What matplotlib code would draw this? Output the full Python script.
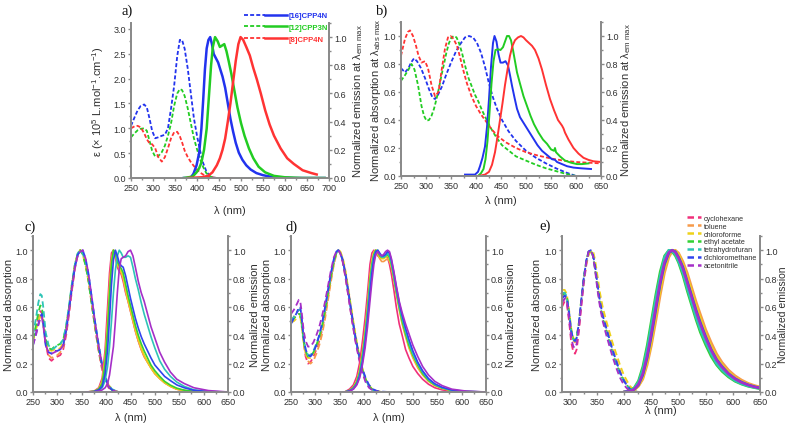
import matplotlib
matplotlib.use("Agg")
import matplotlib.pyplot as plt
from matplotlib.lines import Line2D
from matplotlib.legend_handler import HandlerTuple
from matplotlib.ticker import MultipleLocator, AutoMinorLocator, FormatStrFormatter

plt.rcParams['font.family'] = ['Liberation Sans', 'DejaVu Sans']
plt.rcParams['mathtext.fontset'] = 'custom'
plt.rcParams['mathtext.rm'] = 'Liberation Sans'
plt.rcParams['mathtext.it'] = 'Liberation Sans'

# ---------------- panel a ----------------
a_names = ['[16]CPP4N', '[12]CPP3N', '[8]CPP4N']
a_colors = ['#2233ee', '#22cc22', '#ff3333']
a_abs_wl = [250, 258, 265, 272, 280, 286, 292, 298, 305, 312, 320, 327, 334, 341, 348, 355,
            361, 366, 372, 379, 386, 393, 400, 407, 414, 421, 428, 436, 445, 480]
a_abs_16 = [1.05, 1.22, 1.36, 1.45, 1.48, 1.42, 1.2, 0.95, 0.8, 0.82, 0.85, 0.87, 1.0, 1.4, 1.85, 2.45,
            2.78, 2.78, 2.6, 2.2, 1.7, 1.2, 0.85, 0.55, 0.3, 0.14, 0.05, 0.01, 0.0, 0.0]
a_abs_12 = [0.82, 0.9, 0.96, 0.99, 1.0, 0.95, 0.75, 0.55, 0.43, 0.44, 0.52, 0.65, 0.85, 1.1, 1.45, 1.7,
            1.79, 1.77, 1.65, 1.4, 1.1, 0.8, 0.58, 0.38, 0.22, 0.1, 0.04, 0.01, 0.0, 0.0]
a_abs_8 = [1.0, 1.04, 1.05, 1.02, 0.9, 0.78, 0.7, 0.68, 0.6, 0.42, 0.33, 0.42, 0.6, 0.8, 0.92, 0.93,
           0.84, 0.72, 0.55, 0.42, 0.32, 0.24, 0.17, 0.11, 0.07, 0.04, 0.02, 0.01, 0.0, 0.0]

a_em16_wl = [370, 385, 392, 399, 405, 410, 414, 418, 422, 426, 430, 434, 438, 443, 448, 453, 458,
             464, 470, 476, 482, 488, 495, 503, 512, 522, 535, 550, 566, 585, 620, 690]
a_em16 = [0, 0, 0.03, 0.09, 0.18, 0.35, 0.55, 0.77, 0.92, 0.98, 1.0, 0.95, 0.88, 0.85, 0.82, 0.77, 0.72,
          0.64, 0.53, 0.42, 0.33, 0.25, 0.18, 0.13, 0.09, 0.06, 0.035, 0.02, 0.01, 0.005, 0, 0]
a_em12_wl = [370, 390, 399, 405, 410, 416, 422, 428, 432, 436, 441, 447, 452, 457, 462, 467, 472, 478,
             485, 492, 500, 508, 518, 528, 540, 555, 575, 600, 640, 690]
a_em12 = [0, 0.01, 0.04, 0.07, 0.11, 0.2, 0.35, 0.62, 0.8, 0.93, 1.0, 0.97, 0.93, 0.94, 0.95, 0.9, 0.83,
          0.74, 0.62, 0.5, 0.39, 0.3, 0.21, 0.14, 0.08, 0.04, 0.015, 0.005, 0, 0]
a_em8_wl = [380, 410, 425, 435, 445, 452, 458, 464, 470, 476, 482, 488, 494, 499, 505, 512, 520, 528,
            536, 545, 555, 565, 575, 590, 605, 620, 640, 660, 672]
a_em8 = [0, 0.005, 0.015, 0.04, 0.09, 0.14, 0.2, 0.28, 0.4, 0.53, 0.68, 0.83, 0.95, 1.0, 0.98, 0.93,
         0.87, 0.78, 0.7, 0.6, 0.48, 0.38, 0.3, 0.21, 0.14, 0.1, 0.055, 0.035, 0.025]

# ---------------- panel b ----------------
b_abs16_wl = [250, 258, 265, 270, 276, 282, 290, 298, 306, 313, 318, 324, 332, 340, 350, 360, 370, 378,
              386, 394, 402, 410, 418, 426, 434, 442, 452, 465, 480, 500, 520, 540, 560, 580, 600]
b_abs16 = [0.77, 0.74, 0.77, 0.81, 0.84, 0.82, 0.77, 0.7, 0.62, 0.56, 0.55, 0.58, 0.64, 0.72, 0.81, 0.89,
           0.95, 0.99, 1.0, 0.99, 0.95, 0.88, 0.78, 0.66, 0.56, 0.48, 0.4, 0.32, 0.25, 0.18, 0.13, 0.09,
           0.055, 0.025, 0.0]
b_abs12_wl = [250, 258, 265, 271, 277, 284, 291, 296, 301, 306, 311, 316, 321, 326, 331, 336, 341, 346,
              351, 356, 361, 366, 372, 378, 385, 391, 398, 405, 412, 420, 430, 440, 452, 466, 480, 500,
              520, 540, 560, 580, 600]
b_abs12 = [0.68, 0.72, 0.76, 0.8, 0.76, 0.65, 0.5, 0.43, 0.395, 0.4, 0.43, 0.48, 0.55, 0.63, 0.72, 0.8,
           0.885, 0.95, 0.99, 1.0, 0.99, 0.95, 0.88, 0.79, 0.7, 0.645, 0.58, 0.53, 0.47, 0.41, 0.34, 0.28,
           0.22, 0.18, 0.14, 0.11, 0.08, 0.055, 0.035, 0.015, 0.0]
b_abs8_wl = [250, 258, 264, 268, 274, 280, 285, 291, 298, 304, 311, 318, 325, 331, 338, 344, 349, 355,
             362, 368, 375, 382, 391, 400, 410, 420, 432, 445, 460, 480, 500, 525, 550, 575, 600, 625, 650]
b_abs8 = [0.86, 0.98, 1.03, 1.04, 1.0, 0.93, 0.86, 0.81, 0.82, 0.77, 0.65, 0.57, 0.6, 0.75, 0.91, 0.99,
          1.0, 0.98, 0.93, 0.85, 0.75, 0.66, 0.57, 0.5, 0.44, 0.39, 0.33, 0.28, 0.24, 0.2, 0.17, 0.145,
          0.125, 0.11, 0.1, 0.095, 0.09]

b_em16_wl = [378, 398, 404, 408, 413, 418, 422, 426, 430, 434, 437, 441, 445, 449, 454, 459, 464, 468,
             472, 477, 482, 488, 495, 502, 509, 516, 523, 532, 542, 552, 558, 562, 572, 582, 595, 610, 630]
b_em16 = [0.01, 0.01, 0.03, 0.07, 0.13, 0.21, 0.35, 0.55, 0.78, 0.95, 1.0, 0.96, 0.87, 0.81, 0.81, 0.82,
          0.79, 0.72, 0.645, 0.56, 0.48, 0.42, 0.38, 0.34, 0.3, 0.26, 0.22, 0.18, 0.15, 0.12, 0.115, 0.1,
          0.085, 0.07, 0.06, 0.055, 0.05]
b_em12_wl = [404, 410, 415, 419, 423, 427, 431, 435, 439, 444, 449, 454, 458, 462, 466, 470, 474, 478,
             482, 488, 495, 502, 509, 516, 525, 534, 542, 550, 556, 558, 560, 568, 578, 590, 602, 612, 625]
b_em12 = [0.0, 0.02, 0.05, 0.12, 0.25, 0.45, 0.66, 0.82, 0.9, 0.905, 0.9, 0.92, 0.96, 1.0, 1.0, 0.97,
          0.9, 0.82, 0.74, 0.66, 0.57, 0.5, 0.43, 0.37, 0.31, 0.26, 0.23, 0.19, 0.18, 0.2, 0.17, 0.14,
          0.11, 0.095, 0.085, 0.085, 0.09]
b_em8_wl = [405, 418, 426, 432, 438, 443, 448, 453, 458, 463, 468, 473, 478, 484, 490, 495, 500, 506,
            512, 518, 525, 532, 540, 548, 556, 564, 572, 575, 578, 585, 595, 605, 615, 625, 635, 650]
b_em8 = [0, 0.01, 0.03, 0.08, 0.17, 0.28, 0.4, 0.52, 0.65, 0.76, 0.86, 0.93, 0.97, 0.99, 1.0, 0.99, 0.97,
         0.95, 0.93, 0.9, 0.84, 0.76, 0.65, 0.55, 0.47, 0.4, 0.36, 0.34, 0.31, 0.26, 0.2, 0.16, 0.13,
         0.115, 0.105, 0.1]

# ---------------- solvents (c, d, e) ----------------
solvents = ['cyclohexane', 'toluene', 'chloroforme', 'ethyl acetate', 'tetrahydrofuran',
            'dichloromethane', 'acetonitrile']
solv_colors = ['#f0307a', '#f79a4a', '#eed21a', '#33d133', '#2ec4b6', '#3044ee', '#a52fc8']

c_abs_wl = [250, 256, 261, 265, 268, 271, 276, 282, 288, 294, 300, 306, 312, 318, 324, 330, 336, 342,
            347, 352, 358, 364, 370, 377, 384, 391, 398, 405, 412, 419, 425]
c_abs = [
    [.36, .45, .53, .57, .56, .50, .34, .24, .22, .24, .25, .26, .3, .4, .55, .72, .87, .97, 1.0, .98, .9, .78, .63, .46, .3, .17, .08, .03, .01, 0, 0],
    [.37, .45, .52, .55, .55, .49, .34, .26, .24, .25, .26, .28, .32, .42, .57, .73, .88, .97, 1.0, .98, .9, .79, .64, .47, .31, .18, .09, .04, .015, .005, 0],
    [.37, .44, .5, .53, .53, .48, .36, .3, .29, .3, .3, .31, .35, .45, .6, .76, .9, .98, 1.0, .97, .89, .78, .64, .48, .33, .2, .1, .05, .02, .005, 0],
    [.37, .47, .56, .61, .6, .52, .37, .31, .3, .32, .33, .34, .37, .46, .6, .76, .9, .98, 1.0, .97, .89, .78, .63, .47, .32, .19, .1, .04, .015, .005, 0],
    [.4, .52, .63, .69, .68, .6, .42, .33, .3, .31, .33, .34, .37, .47, .61, .77, .9, .98, 1.0, .98, .92, .81, .67, .5, .35, .21, .11, .05, .02, .01, 0],
    [.33, .41, .48, .53, .55, .48, .33, .28, .27, .29, .29, .3, .33, .43, .58, .74, .88, .97, .99, 1.0, .94, .83, .68, .5, .34, .2, .1, .04, .015, .005, 0],
    [.33, .4, .47, .52, .53, .47, .33, .28, .27, .28, .29, .3, .33, .43, .58, .74, .88, .97, .99, 1.0, .94, .83, .68, .5, .34, .2, .1, .04, .015, .005, 0],
]
c_em_wl = [360, 375, 385, 392, 398, 403, 407, 411, 415, 419, 423, 427, 431, 435, 440, 445, 450, 455, 460,
           466, 472, 478, 485, 492, 500, 510, 520, 532, 545, 560, 580, 610, 650]
c_em = [
    [0, .005, .03, .1, .3, .6, .84, .98, 1.0, .95, .88, .85, .83, .78, .7, .64, .57, .5, .43, .36, .3, .25, .21, .17, .13, .095, .065, .04, .02, .01, .003, 0, 0],
    [0, .005, .025, .08, .25, .5, .76, .94, 1.0, .97, .9, .86, .84, .8, .71, .64, .57, .5, .43, .36, .3, .25, .21, .17, .13, .095, .065, .04, .02, .01, .003, 0, 0],
    [0, .004, .02, .07, .22, .46, .72, .92, 1.0, .98, .91, .87, .85, .81, .73, .65, .58, .51, .44, .37, .31, .26, .21, .17, .13, .095, .065, .04, .02, .01, .003, 0, 0],
    [0, .004, .02, .06, .2, .43, .68, .9, 1.0, .98, .92, .89, .87, .84, .76, .68, .61, .54, .47, .4, .34, .29, .24, .19, .15, .11, .075, .048, .027, .013, .004, 0, 0],
    [0, .002, .01, .03, .08, .18, .32, .5, .7, .86, .96, 1.0, .98, .95, .95, .96, .95, .88, .8, .72, .63, .55, .47, .39, .31, .22, .16, .11, .07, .04, .015, .003, 0],
    [0, .003, .015, .04, .13, .3, .52, .76, .93, 1.0, .96, .91, .89, .88, .82, .74, .66, .59, .52, .45, .39, .34, .29, .24, .19, .15, .11, .08, .05, .03, .012, .003, 0],
    [0, .002, .006, .015, .03, .06, .12, .22, .32, .5, .7, .87, .94, .95, .96, .99, 1.0, .96, .88, .78, .7, .64, .55, .46, .38, .28, .21, .14, .09, .06, .03, .01, 0],
]

d_abs_wl = [250, 256, 262, 266, 269, 272, 276, 280, 285, 290, 296, 302, 308, 314, 320, 326, 332, 338,
            343, 347, 351, 356, 362, 368, 375, 382, 389, 396, 403, 410, 418, 426, 435, 450]
d_abs = [
    [.5, .53, .56, .58, .58, .5, .35, .25, .2, .21, .25, .3, .36, .44, .55, .67, .8, .91, .98, 1.0, .98, .92, .8, .67, .51, .37, .25, .15, .08, .04, .015, .005, 0, 0],
    [.5, .52, .54, .55, .55, .48, .35, .27, .22, .2, .22, .27, .33, .41, .52, .65, .78, .9, .97, 1.0, .99, .94, .84, .71, .55, .4, .27, .17, .09, .045, .015, .005, 0, 0],
    [.49, .5, .52, .53, .53, .46, .34, .27, .24, .24, .27, .32, .38, .46, .57, .69, .81, .92, .98, 1.0, .99, .95, .85, .72, .56, .41, .28, .17, .09, .045, .015, .005, 0, 0],
    [.5, .52, .54, .55, .55, .48, .36, .29, .25, .25, .28, .33, .39, .47, .58, .7, .82, .92, .98, 1.0, .98, .93, .82, .69, .53, .38, .26, .16, .09, .04, .015, .005, 0, 0],
    [.5, .53, .56, .58, .58, .5, .37, .3, .26, .26, .29, .34, .4, .48, .59, .71, .83, .93, .98, 1.0, .98, .93, .82, .69, .53, .38, .26, .16, .09, .04, .015, .005, 0, 0],
    [.48, .52, .56, .6, .6, .52, .38, .3, .26, .25, .28, .33, .4, .49, .6, .72, .84, .94, .99, 1.0, .98, .93, .83, .7, .54, .39, .27, .17, .1, .05, .02, .008, .003, 0],
    [.55, .58, .62, .65, .64, .56, .43, .36, .32, .32, .35, .4, .46, .54, .64, .75, .86, .95, .99, 1.0, .98, .92, .81, .67, .51, .36, .24, .14, .07, .03, .01, .003, 0, 0],
]
d_em_wl = [360, 370, 378, 385, 391, 397, 402, 407, 412, 416, 420, 424, 428, 432, 436, 440, 444, 448, 452,
           456, 461, 466, 472, 478, 485, 492, 500, 510, 520, 532, 545, 560, 580, 610, 650]
d_em = [
    [0, .02, .05, .11, .21, .37, .52, .7, .9, .98, 1.0, .98, .96, .95, .95, .95, .96, .95, .9, .83, .72, .6, .48, .4, .3, .24, .18, .13, .09, .055, .03, .015, .005, 0, 0],
    [0, .01, .035, .08, .16, .3, .44, .62, .82, .93, .99, 1.0, .97, .94, .92, .92, .93, .94, .92, .88, .79, .69, .58, .48, .39, .31, .24, .17, .12, .075, .045, .025, .01, .002, 0],
    [0, .01, .03, .075, .15, .28, .42, .6, .8, .92, .98, 1.0, .98, .95, .94, .94, .95, .96, .94, .89, .8, .7, .59, .49, .4, .32, .25, .18, .125, .078, .047, .026, .01, .002, 0],
    [0, .01, .03, .07, .14, .27, .4, .58, .78, .9, .97, 1.0, .99, .96, .95, .95, .96, .97, .95, .9, .81, .71, .6, .5, .41, .33, .26, .19, .13, .082, .05, .028, .011, .003, 0],
    [0, .008, .025, .06, .13, .25, .38, .55, .75, .88, .96, .99, 1.0, .97, .95, .95, .96, .98, .96, .91, .82, .72, .61, .52, .43, .35, .27, .2, .14, .088, .054, .03, .012, .003, 0],
    [0, .007, .022, .055, .115, .22, .35, .51, .7, .84, .94, .99, 1.0, .98, .96, .96, .97, .99, .98, .93, .84, .74, .63, .54, .45, .37, .29, .21, .15, .095, .058, .033, .014, .004, 0],
    [0, .005, .02, .05, .1, .2, .31, .46, .64, .78, .9, .97, .99, .97, .96, .97, .99, 1.0, .99, .94, .85, .75, .64, .56, .48, .41, .33, .25, .18, .12, .075, .045, .02, .006, 0],
]

e_abs_wl = [285, 290, 294, 298, 302, 306, 309, 312, 316, 320, 325, 330, 334, 338, 342, 346, 350, 355,
            360, 366, 372, 378, 385, 392, 399, 406, 412, 418, 425]
e_abs = [
    [.6, .64, .62, .5, .35, .28, .27, .3, .42, .58, .76, .9, .97, 1.0, .97, .88, .76, .63, .53, .45, .37, .29, .21, .14, .08, .04, .015, .005, 0],
    [.67, .68, .66, .55, .42, .36, .35, .37, .47, .62, .79, .92, .98, 1.0, .97, .89, .78, .66, .56, .47, .39, .31, .23, .15, .09, .05, .02, .008, 0],
    [.72, .72, .69, .58, .45, .38, .37, .39, .49, .63, .79, .91, .97, .99, 1.0, .93, .83, .7, .6, .51, .43, .35, .27, .19, .12, .07, .035, .015, .005],
    [.68, .7, .67, .56, .43, .37, .36, .38, .48, .63, .8, .93, .99, 1.0, .96, .87, .75, .62, .52, .44, .36, .28, .2, .13, .08, .04, .015, .005, 0],
    [.7, .7, .67, .56, .43, .37, .36, .38, .48, .63, .8, .93, .99, 1.0, .96, .87, .75, .62, .52, .44, .36, .28, .2, .13, .08, .04, .015, .005, 0],
    [.66, .68, .66, .56, .43, .37, .36, .38, .48, .63, .8, .93, .99, 1.0, .97, .89, .77, .64, .54, .46, .38, .3, .22, .14, .08, .04, .015, .005, 0],
    [.63, .66, .64, .52, .38, .32, .31, .34, .45, .6, .78, .92, .99, 1.0, .96, .86, .73, .6, .5, .41, .33, .25, .17, .1, .05, .02, .007, 0, 0],
]
e_em_wl = [400, 410, 418, 426, 434, 442, 450, 458, 466, 474, 482, 488, 494, 500, 508, 516, 524, 532,
           540, 550, 560, 570, 580, 592, 604, 616, 628, 640, 650]
e_em = [
    [0, .005, .02, .06, .14, .27, .44, .62, .79, .93, .99, 1.0, .98, .94, .86, .76, .66, .56, .47, .37, .29, .22, .17, .125, .09, .065, .048, .035, .027],
    [0, .003, .012, .04, .09, .19, .33, .5, .68, .84, .95, .99, 1.0, .98, .92, .84, .74, .64, .55, .44, .35, .27, .21, .155, .115, .085, .062, .046, .036],
    [0, .004, .015, .045, .1, .21, .36, .54, .72, .87, .97, 1.0, .995, .97, .9, .81, .71, .61, .52, .41, .32, .25, .19, .14, .1, .074, .055, .04, .031],
    [0, .008, .03, .08, .18, .33, .51, .69, .85, .96, 1.0, .99, .96, .91, .82, .71, .61, .51, .42, .33, .25, .19, .145, .105, .075, .055, .04, .03, .023],
    [0, .006, .025, .07, .16, .3, .48, .66, .82, .95, 1.0, .995, .97, .92, .84, .73, .63, .53, .44, .35, .27, .2, .155, .113, .08, .058, .043, .032, .025],
    [0, .004, .018, .05, .12, .24, .4, .58, .76, .9, .98, 1.0, .99, .95, .88, .78, .68, .58, .49, .39, .3, .23, .18, .13, .095, .07, .051, .038, .029],
    [0, .005, .019, .055, .13, .255, .42, .6, .775, .915, .985, 1.0, .985, .945, .87, .77, .67, .57, .48, .38, .295, .225, .175, .128, .092, .067, .05, .036, .028],
]

W, H = 788, 427
SPINE = '#8a8a8a'
TXT = '#303030'
LAB = 8


def box(l, t, r, b):
    return [l / W, 1 - b / H, (r - l) / W, (b - t) / H]


def style(ax, ax2, xlim, xstep, ylim, ystep, y2lim):
    for a in (ax, ax2):
        a.spines['top'].set_visible(False)
        for s in ('left', 'right', 'bottom'):
            a.spines[s].set_color(SPINE)
            a.spines[s].set_linewidth(1.3)
        a.tick_params(which='both', direction='out', color=SPINE, labelcolor=TXT,
                      labelsize=6.5, width=1.0, pad=1)
        a.tick_params(which='major', length=2.5)
        a.tick_params(which='minor', length=1.5)
    ax.set_xlim(*xlim)
    ax.xaxis.set_major_locator(MultipleLocator(xstep))
    ax.xaxis.set_minor_locator(AutoMinorLocator(2))
    ax.set_ylim(*ylim)
    ax.yaxis.set_major_locator(MultipleLocator(ystep))
    ax.yaxis.set_minor_locator(AutoMinorLocator(2))
    ax2.set_ylim(*y2lim)
    ax2.yaxis.set_major_locator(MultipleLocator(0.2))
    ax2.yaxis.set_minor_locator(AutoMinorLocator(2))
    ax.yaxis.set_major_formatter(FormatStrFormatter('%.1f'))
    ax2.yaxis.set_major_formatter(FormatStrFormatter('%.1f'))


def labels(ax, ax2, bb_px, left, right, xlab_y, yl_x, yr_x, rsize=LAB):
    # positions given in figure pixels, converted to axes fractions
    l, t, r, b = bb_px
    ax.set_xlabel('λ (nm)', fontsize=LAB, color=TXT)
    ax.xaxis.set_label_coords(0.5, (b - xlab_y) / (b - t))
    ax.set_ylabel(left, fontsize=LAB, color=TXT)
    ax.yaxis.set_label_coords((yl_x - l) / (r - l), 0.5)
    ax2.set_ylabel(right, fontsize=rsize, color=TXT)
    ax2.yaxis.set_label_coords((yr_x - l) / (r - l), 0.5)


def letter(s, x, y):
    fig.text(x / W, 1 - y / H, s, fontsize=10.5, family='Liberation Serif',
             ha='right', va='bottom', color='#111111')


fig = plt.figure(figsize=(W / 100, H / 100), dpi=100)
dash_ab = (0, (2.2, 1.2))
em_lab = r'Normalized emission at λ$_{\mathrm{em\ max}}$'

# panel a
pa = (131, 24, 329, 179)
ax = fig.add_axes(box(*pa))
ax2 = ax.twinx()
for wl, v, c in zip([a_abs_wl] * 3, [a_abs_16, a_abs_12, a_abs_8], a_colors):
    ax.plot(wl, v, color=c, lw=1.3, ls=dash_ab)
for wl, v, c in zip([a_em16_wl, a_em12_wl, a_em8_wl], [a_em16, a_em12, a_em8], a_colors):
    ax2.plot(wl, v, color=c, lw=1.8)
style(ax, ax2, (250, 700), 50, (0, 3.12), 0.5, (0, 1.1))
labels(ax, ax2, pa, r'ε (× 10$^5$ L.mol$^{-1}$.cm$^{-1}$)', em_lab, 206, 106, 351)
letter('a)', 133, 18)
handles = [(Line2D([], [], color=c, lw=1.3, ls=dash_ab), Line2D([], [], color=c, lw=1.8))
           for c in a_colors]
leg = fig.legend(handles, a_names, handler_map={tuple: HandlerTuple(ndivide=None, pad=0)},
                 loc='upper left', bbox_to_anchor=(240 / W, 1 - 9 / H), frameon=False,
                 prop={'size': 5.6, 'weight': 'bold'}, handlelength=5.5, handletextpad=0.3,
                 labelspacing=0.55, borderpad=0)
for t, c in zip(leg.get_texts(), a_colors):
    t.set_color(c)

# panel b
pb = (401, 23, 601, 177)
bx = fig.add_axes(box(*pb))
bx2 = bx.twinx()
for wl, v, c in zip([b_abs16_wl, b_abs12_wl, b_abs8_wl], [b_abs16, b_abs12, b_abs8], a_colors):
    bx.plot(wl, v, color=c, lw=1.3, ls=dash_ab)
for wl, v, c in zip([b_em16_wl, b_em12_wl, b_em8_wl], [b_em16, b_em12, b_em8], a_colors):
    bx2.plot(wl, v, color=c, lw=1.4)
style(bx, bx2, (250, 650), 50, (0, 1.1), 0.2, (0, 1.1))
labels(bx, bx2, pb, r'Normalized absorption at λ$_{\mathrm{abs\ max}}$', em_lab, 196, 383, 619)
letter('b)', 388, 18)

# panels c, d, e
dash_s = (0, (3.5, 2))
panels = [
    ('c)', (33, 237, 228, 393), c_abs_wl, c_abs, c_em_wl, c_em, (250, 650), 1.2, 413, 14, 250, (36, 234), LAB),
    ('d)', (291, 237, 486, 393), d_abs_wl, d_abs, d_em_wl, d_em, (250, 650), 1.2, 413, 272, 506, (298, 234), LAB),
    ('e)', (562, 237, 760, 393), e_abs_wl, e_abs, e_em_wl, e_em, (285, 650), 1.8, 406, 542, 777.5, (551, 233), 7.5),
]
for lab, pp, awl, absv, ewl, emv, xl, elw, xly, ylx, yrx, lpos, rs in panels:
    px = fig.add_axes(box(*pp))
    px2 = px.twinx()
    for v, c in zip(absv, solv_colors):
        px.plot(awl, v, color=c, lw=1.3, ls=dash_s)
    for v, c in zip(emv, solv_colors):
        px2.plot(ewl, v, color=c, lw=elw)
    style(px, px2, xl, 50, (0, 1.1), 0.2, (0, 1.1))
    labels(px, px2, pp, 'Normalized absorption', 'Normalized emission', xly, ylx, yrx, rs)
    letter(lab, *lpos)

hs = [Line2D([], [], color=c, lw=1.8, ls=(0, (2.6, 1.6))) for c in solv_colors]
leg2 = fig.legend(hs, solvents, loc='upper left', bbox_to_anchor=(683 / W, 1 - 212 / H),
                  frameon=False, fontsize=5.2, handlelength=2.0, handletextpad=0.4,
                  labelspacing=0.12, borderpad=0)
for t in leg2.get_texts():
    t.set_color(TXT)

fig.savefig('out.png', dpi=100)
